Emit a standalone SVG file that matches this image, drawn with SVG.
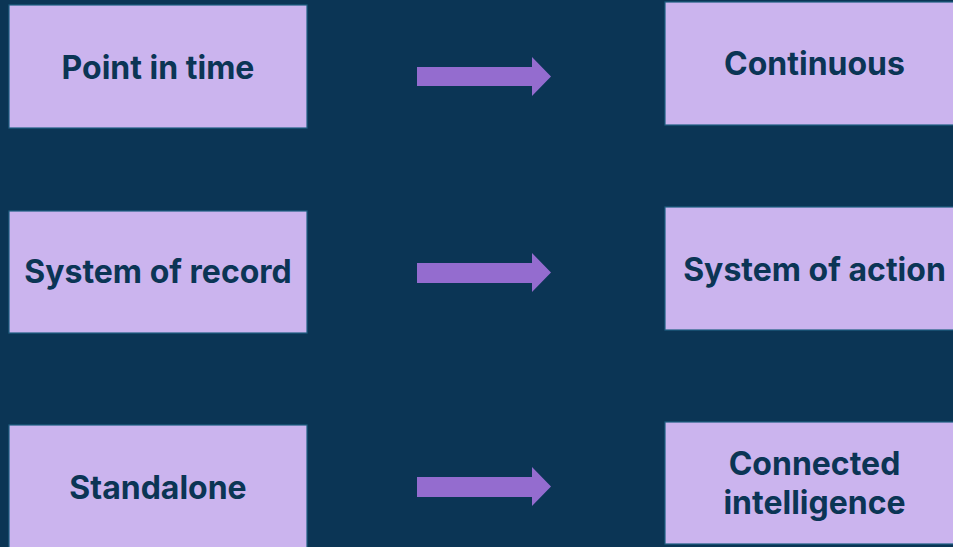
<svg xmlns="http://www.w3.org/2000/svg" width="953" height="547" viewBox="0 0 953 547">
  <style>
    .box { fill: #cbb4ee; stroke: #1f5f82; stroke-width: 1.2; }
    .label { font-family: Inter, "Noto Sans", "Liberation Sans", sans-serif; font-weight: 700; font-size: 32px; fill: #0b3555; text-anchor: middle; }
    .arrow { fill: #946ccf; }
  </style>
  <rect width="953" height="547" fill="#0b3555"/>

  <g id="point-in-time">
    <rect class="box" x="9" y="5" width="298" height="123"/>
    <text class="label" x="158" y="79">Point in time</text>
  </g>
  <g id="system-of-record">
    <rect class="box" x="9" y="211" width="298" height="122"/>
    <text class="label" x="158" y="283">System of record</text>
  </g>
  <g id="standalone">
    <rect class="box" x="9" y="425" width="298" height="130"/>
    <text class="label" x="158" y="499">Standalone</text>
  </g>

  <g id="continuous">
    <rect class="box" x="665" y="2" width="300" height="123"/>
    <text class="label" x="814.5" y="75">Continuous</text>
  </g>
  <g id="system-of-action">
    <rect class="box" x="665" y="207" width="300" height="123"/>
    <text class="label" x="814.5" y="281">System of action</text>
  </g>
  <g id="connected-intelligence">
    <rect class="box" x="665" y="422" width="300" height="122"/>
    <text class="label" x="814.5" y="475">Connected</text>
    <text class="label" x="814.5" y="514">intelligence</text>
  </g>

  <g id="connectors">
    <polygon class="arrow" points="417,67 532,67 532,57 551,76.5 532,96 532,86 417,86"/>
    <polygon class="arrow" points="417,263 532,263 532,253 551,272.5 532,292 532,283 417,283"/>
    <polygon class="arrow" points="417,477 532,477 532,467 551,486.5 532,506 532,497 417,497"/>
  </g>
</svg>
